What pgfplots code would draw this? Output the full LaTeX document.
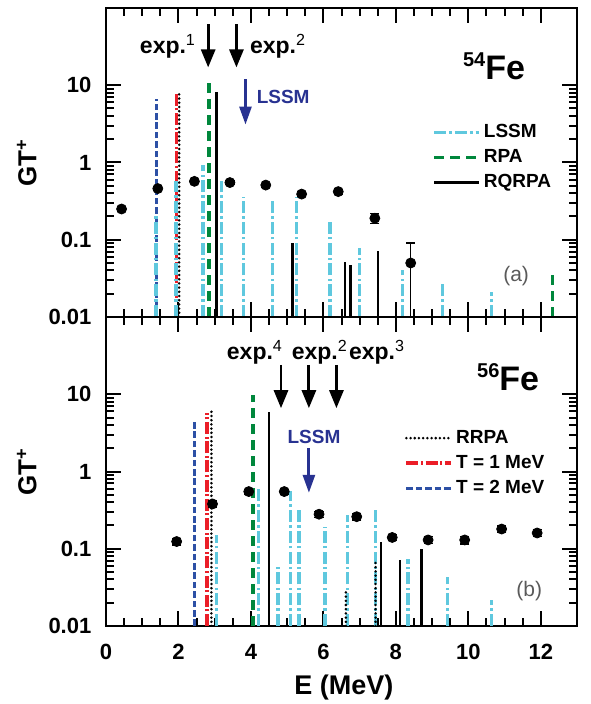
\documentclass[border=0pt]{standalone}
\usepackage{fontspec}
\setmainfont{Liberation Sans}
\usepackage{pgfplots}
\pgfplotsset{compat=1.18}
\usetikzlibrary{arrows.meta}

\definecolor{lssm}{RGB}{95,200,222}
\definecolor{rpa}{RGB}{0,135,60}
\definecolor{tone}{RGB}{235,30,40}
\definecolor{ttwo}{RGB}{45,80,165}
\definecolor{navy}{RGB}{40,50,145}
\definecolor{lblgray}{RGB}{90,90,90}

\tikzset{
  lssmline/.style={color=lssm, line width=1.8pt, dash pattern=on 6pt off 1.6pt on 1.2pt off 1.6pt},
  rpaline/.style={color=rpa, line width=1.8pt, dash pattern=on 5pt off 3pt},
  rqrpaline/.style={color=black, line width=1.2pt},
  rrpaline/.style={color=black, line width=1.4pt, line cap=round, dash pattern=on 0pt off 2.1pt},
  toneline/.style={color=tone, line width=1.8pt, dash pattern=on 6pt off 1.3pt on 1pt off 1.3pt},
  ttwoline/.style={color=ttwo, line width=1.5pt, dash pattern=on 3.3pt off 1.4pt},
  exparrow/.style={-{Triangle[width=7pt,length=9pt]}, line width=1.4pt},
}

\pgfplotsset{
  panel/.style={
    scale only axis, width=235.5pt, height=154.5pt,
    xmin=0, xmax=13, ymin=0.01, ymax=100,
    log origin y=infty,
    xtick={0,2,...,12}, minor x tick num=3,
    ytick={0.01,0.1,1,10}, yticklabels={0.01,0.1,1,10},
    tick align=inside, major tick length=7.5pt, minor tick length=4pt,
    every tick/.style={black, line width=1pt},
    axis line style={line width=1.4pt},
    ticklabel style={font=\bfseries\fontsize{11}{13}\selectfont},
    yticklabel style={xshift=-3.8pt},
    xticklabel style={yshift=-5.5pt},
    ylabel={GT\textsuperscript{+}},
    ylabel style={font=\bfseries\fontsize{13}{15}\selectfont, at={(axis description cs:-0.168,0.5)}, anchor=center},
    legend style={draw=none, fill=none, inner sep=0pt, row sep=1.5pt,
      font=\bfseries\fontsize{9.5}{11}\selectfont, nodes={inner sep=1.5pt}},
    legend cell align=left,
  },
  expdata/.style={only marks, mark=*, mark size=2.5pt, black, forget plot,
    error bars/y dir=both, error bars/y explicit,
    error bars/error bar style={line width=0.6pt},
    error bars/error mark options={rotate=90, mark size=2.3pt, line width=0.6pt}},
}

\begin{document}
\begin{tikzpicture}
\useasboundingbox (0,0) rectangle (295pt,352pt);

% ---------- (a) 54Fe ----------
\begin{semilogyaxis}[panel, at={(53pt,193.5pt)}, anchor=south west,
  xticklabels={},
  legend style={at={(0.692,0.635)}, anchor=north west}]
\addplot[ttwoline, ycomb, forget plot] coordinates {(1.38,6.6)};
\addplot[toneline, ycomb, forget plot] coordinates {(1.95,8.1)};
\addplot[rrpaline, ycomb, forget plot] coordinates {(2.02,8.1)};
\addplot[lssmline, ycomb, legend image code/.code={\draw[lssmline] (0pt,0pt) -- (22.5pt,0pt);}] coordinates {
  (1.38,0.2) (1.93,0.57) (2.67,0.93) (3.19,0.57) (3.79,0.36) (4.6,0.33)
  (5.26,0.36) (6.18,0.17) (7.0,0.079) (8.18,0.041) (9.29,0.029) (10.64,0.021)};
\addlegendentry{LSSM}
\addplot[rpaline, ycomb, legend image code/.code={\draw[rpaline] (0pt,0pt) -- (22.5pt,0pt);}] coordinates {
  (2.85,11) (12.32,0.037)};
\addlegendentry{RPA}
\addplot[rqrpaline, ycomb, legend image code/.code={\draw[rqrpaline, line width=1.4pt] (0pt,0pt) -- (22.5pt,0pt);}] coordinates {
  (3.05,8.1) (5.15,0.091) (6.59,0.052) (6.75,0.047) (7.51,0.071)};
\addlegendentry{RQRPA}
\addplot[expdata] coordinates {
  (0.43,0.25) +- (0,0.02)
  (1.43,0.46) +- (0,0.03)
  (2.44,0.57) +- (0,0.03)
  (3.42,0.55) +- (0,0.03)
  (4.41,0.51) +- (0,0.03)
  (5.4,0.39) +- (0,0.03)
  (6.41,0.42) +- (0,0.03)
  (7.42,0.19) +- (0,0.028)
  (8.41,0.05) += (0,0.041) -= (0,0.0399)};
\draw[exparrow] (axis cs:2.82,62) -- (axis cs:2.82,17);
\draw[exparrow] (axis cs:3.6,62) -- (axis cs:3.6,17);
\draw[exparrow, navy, -{Triangle[width=6pt,length=9pt]}] (axis cs:3.85,12) -- (axis cs:3.85,3.1);
\node[font=\bfseries\fontsize{11.5}{13}\selectfont] at (axis cs:1.71,32) {exp.\textsuperscript{\mdseries 1}};
\node[font=\bfseries\fontsize{11.5}{13}\selectfont] at (axis cs:4.75,32) {exp.\textsuperscript{\mdseries 2}};
\node[font=\bfseries\fontsize{9.5}{11}\selectfont, text=navy] at (axis cs:4.89,7.0) {LSSM};
\node[font=\bfseries] at (axis cs:10.71,17.7) {\fontsize{10}{12}\selectfont\raisebox{6.5pt}{54}\fontsize{17}{20}\selectfont Fe};
\node[text=lblgray, font=\fontsize{10.5}{12}\selectfont] at (axis cs:11.32,0.034) {(a)};
\end{semilogyaxis}

% ---------- (b) 56Fe ----------
\begin{semilogyaxis}[panel, at={(53pt,39pt)}, anchor=south west,
  xticklabels={0,2,4,6,8,10,12},
  xlabel={E (MeV)},
  xlabel style={font=\bfseries\fontsize{13.5}{16}\selectfont, at={(axis description cs:0.505,0)}, anchor=center, yshift=-31pt},
  legend style={at={(0.633,0.645)}, anchor=north west}]
\addplot[lssmline, ycomb, forget plot] coordinates {
  (3.05,0.15) (4.21,0.63) (4.75,0.063) (5.09,0.56) (5.32,0.33) (6.05,0.19)
  (6.66,0.27) (7.44,0.33) (8.34,0.073) (9.42,0.043) (10.64,0.022)};
\addplot[rpaline, ycomb, forget plot] coordinates {(4.06,9.8)};
\addplot[rqrpaline, ycomb, forget plot] coordinates {
  (4.5,5.9) (7.59,0.124) (8.11,0.071) (8.71,0.10)};
\addplot[rrpaline, ycomb, legend image code/.code={\draw[rrpaline] (0pt,0pt) -- (22.5pt,0pt);}] coordinates {
  (2.91,6.7) (6.62,0.028) (7.44,0.07)};
\addlegendentry{RRPA}
\addplot[toneline, ycomb, legend image code/.code={\draw[toneline] (0pt,0pt) -- (22.5pt,0pt);}] coordinates {(2.78,5.7)};
\addlegendentry{T = 1 MeV}
\addplot[ttwoline, ycomb, legend image code/.code={\draw[ttwoline] (0pt,0pt) -- (22.5pt,0pt);}] coordinates {(2.44,4.7)};
\addlegendentry{T = 2 MeV}
\addplot[expdata] coordinates {
  (1.95,0.124) +- (0,0.012)
  (2.94,0.38) +- (0,0.035)
  (3.94,0.55) +- (0,0.04)
  (4.92,0.55) +- (0,0.04)
  (5.88,0.28) +- (0,0.025)
  (6.92,0.26) +- (0,0.025)
  (7.9,0.14) +- (0,0.013)
  (8.89,0.13) +- (0,0.013)
  (9.9,0.13) +- (0,0.015)
  (10.92,0.18) +- (0,0.017)
  (11.9,0.16) +- (0,0.016)};
\draw[exparrow] (axis cs:4.83,24) -- (axis cs:4.83,6.6);
\draw[exparrow] (axis cs:5.6,24) -- (axis cs:5.6,6.6);
\draw[exparrow] (axis cs:6.36,24) -- (axis cs:6.36,6.6);
\draw[exparrow, navy, -{Triangle[width=6pt,length=9pt]}] (axis cs:5.6,2.0) -- (axis cs:5.6,0.53);
\node[font=\bfseries\fontsize{11.5}{13}\selectfont] at (axis cs:4.11,35) {exp.\textsuperscript{\mdseries 4}};
\node[font=\bfseries\fontsize{11.5}{13}\selectfont] at (axis cs:5.9,35) {exp.\textsuperscript{\mdseries 2}};
\node[font=\bfseries\fontsize{11.5}{13}\selectfont] at (axis cs:7.48,35) {exp.\textsuperscript{\mdseries 3}};
\node[font=\bfseries\fontsize{9.5}{11}\selectfont, text=navy] at (axis cs:5.74,2.77) {LSSM};
\node[font=\bfseries] at (axis cs:11.1,16.6) {\fontsize{10}{12}\selectfont\raisebox{6.5pt}{56}\fontsize{17}{20}\selectfont Fe};
\node[text=lblgray, font=\fontsize{10.5}{12}\selectfont] at (axis cs:11.68,0.0285) {(b)};
\end{semilogyaxis}
\end{tikzpicture}
\end{document}
